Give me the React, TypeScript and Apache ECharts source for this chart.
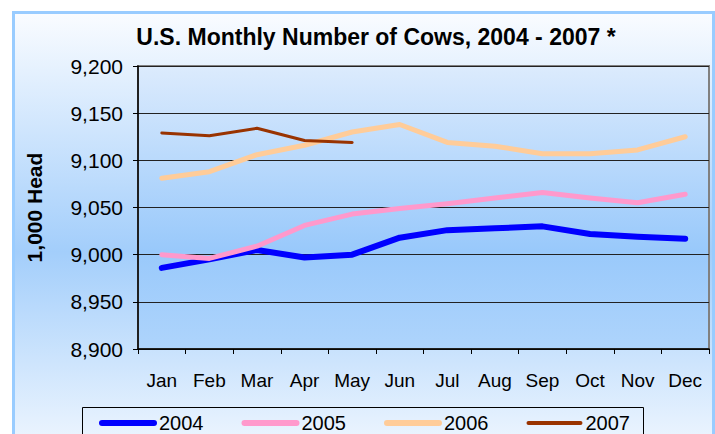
import React, { useEffect, useRef } from "react";
import * as echarts from "echarts";

const months = ["Jan", "Feb", "Mar", "Apr", "May", "Jun", "Jul", "Aug", "Sep", "Oct", "Nov", "Dec"];
const years = ["2004", "2005", "2006", "2007"];
const s2004 = [8986, 8995, 9005, 8997, 9000, 9018, 9026, 9028, 9030, 9022, 9019, 9017];
const s2005 = [9000, 8996, 9009, 9031, 9043, 9049, 9054, 9060, 9066, 9060, 9055, 9064];
const s2006 = [9081, 9088, 9106, 9116, 9130, 9138, 9119, 9115, 9107, 9107, 9111, 9125];
const s2007 = [9129, 9126, 9134, 9121, 9119];
const yTicks = { min: 8900, max: 9200, interval: 50 };

const FONT = "'Liberation Sans', Arial, sans-serif";

export default function App() {
  const ref = useRef<HTMLDivElement>(null);
  useEffect(() => {
    if (!ref.current) return;
    const chart = echarts.init(ref.current, null, { renderer: "svg" });
    const seriesData = [s2004, s2005, s2006, s2007];
    const colors = ["#0000ff", "#ff99cc", "#ffcc99", "#993300"];
    const widths = [6, 5, 5, 3];
    const legendWidths = [6, 6, 6, 4];
    chart.setOption({
      animation: false,
      textStyle: { fontFamily: FONT },
      title: {
        text: "U.S. Monthly Number of Cows, 2004 - 2007 *",
        left: 371,
        textAlign: "center",
        top: 20,
        textStyle: { fontSize: 23, fontWeight: "bold", color: "#000", fontFamily: FONT },
      },
      graphic: [
        {
          type: "rect",
          z: -10,
          silent: true,
          shape: { x: 13.5, y: 12.5, width: 700, height: 460 },
          style: {
            fill: new echarts.graphic.LinearGradient(0, 0, 0, 1, [
              { offset: 0, color: "#fafcff" },
              { offset: 0.52, color: "#a3cefb" },
              { offset: 1, color: "#f8fbff" },
            ]),
            stroke: "#99ccff",
            lineWidth: 3,
          },
        },
        {
          type: "rect",
          z: 5,
          silent: true,
          shape: { x: 82.5, y: 407.5, width: 561, height: 60 },
          style: { fill: "transparent", stroke: "#000", lineWidth: 1 },
        },
      ],
      grid: {
        left: 138,
        right: 6,
        top: 66,
        bottom: 85,
        show: true,
        borderColor: "#808080",
        borderWidth: 2,
        backgroundColor: new echarts.graphic.LinearGradient(0, 0, 0, 1, [
          { offset: 0, color: "#dcebfd" },
          { offset: 0.65, color: "#99c9fb" },
          { offset: 1, color: "#aed4fc" },
        ]),
      },
      legend: {
        data: years.map((y, i) => ({
          name: y,
          lineStyle: { width: legendWidths[i], cap: "round", color: colors[i] },
        })),
        left: 99,
        top: 413,
        padding: 0,
        itemWidth: 52,
        itemHeight: 6,
        itemGap: 38,
        itemStyle: { opacity: 0 },
        textStyle: { fontSize: 20, lineHeight: 20, color: "#000", fontFamily: FONT },
      },
      xAxis: {
        type: "category",
        data: months,
        boundaryGap: true,
        axisLine: { lineStyle: { color: "#000", width: 1.5 } },
        axisTick: { show: true, inside: false, length: 5, lineStyle: { color: "#000" } },
        axisLabel: { interval: 0, fontSize: 19, color: "#000", margin: 22, fontFamily: FONT },
      },
      yAxis: {
        type: "value",
        min: yTicks.min,
        max: yTicks.max,
        interval: yTicks.interval,
        name: "1,000 Head",
        nameLocation: "middle",
        nameGap: 93,
        nameRotate: 90,
        nameTextStyle: { fontSize: 21, fontWeight: "bold", color: "#000", fontFamily: FONT },
        axisLine: { show: true, lineStyle: { color: "#000", width: 1.5 } },
        axisTick: { show: true, inside: false, length: 5, lineStyle: { color: "#000" } },
        axisLabel: {
          fontSize: 21,
          color: "#000",
          margin: 15,
          fontFamily: FONT,
          formatter: (v: number) => v.toLocaleString("en-US"),
        },
        splitLine: { show: true, lineStyle: { color: "#222", width: 1 } },
      },
      series: years.map((y, i) => ({
        name: y,
        type: "line",
        data: seriesData[i],
        symbol: "none",
        smooth: false,
        color: colors[i],
        lineStyle: { color: colors[i], width: widths[i], cap: "round", join: "round" },
      })),
    });
    return () => chart.dispose();
  }, []);
  return (
    <div
      ref={ref}
      style={{ position: "fixed", left: 0, top: 0, width: 715, height: 434, background: "#fff" }}
    />
  );
}
